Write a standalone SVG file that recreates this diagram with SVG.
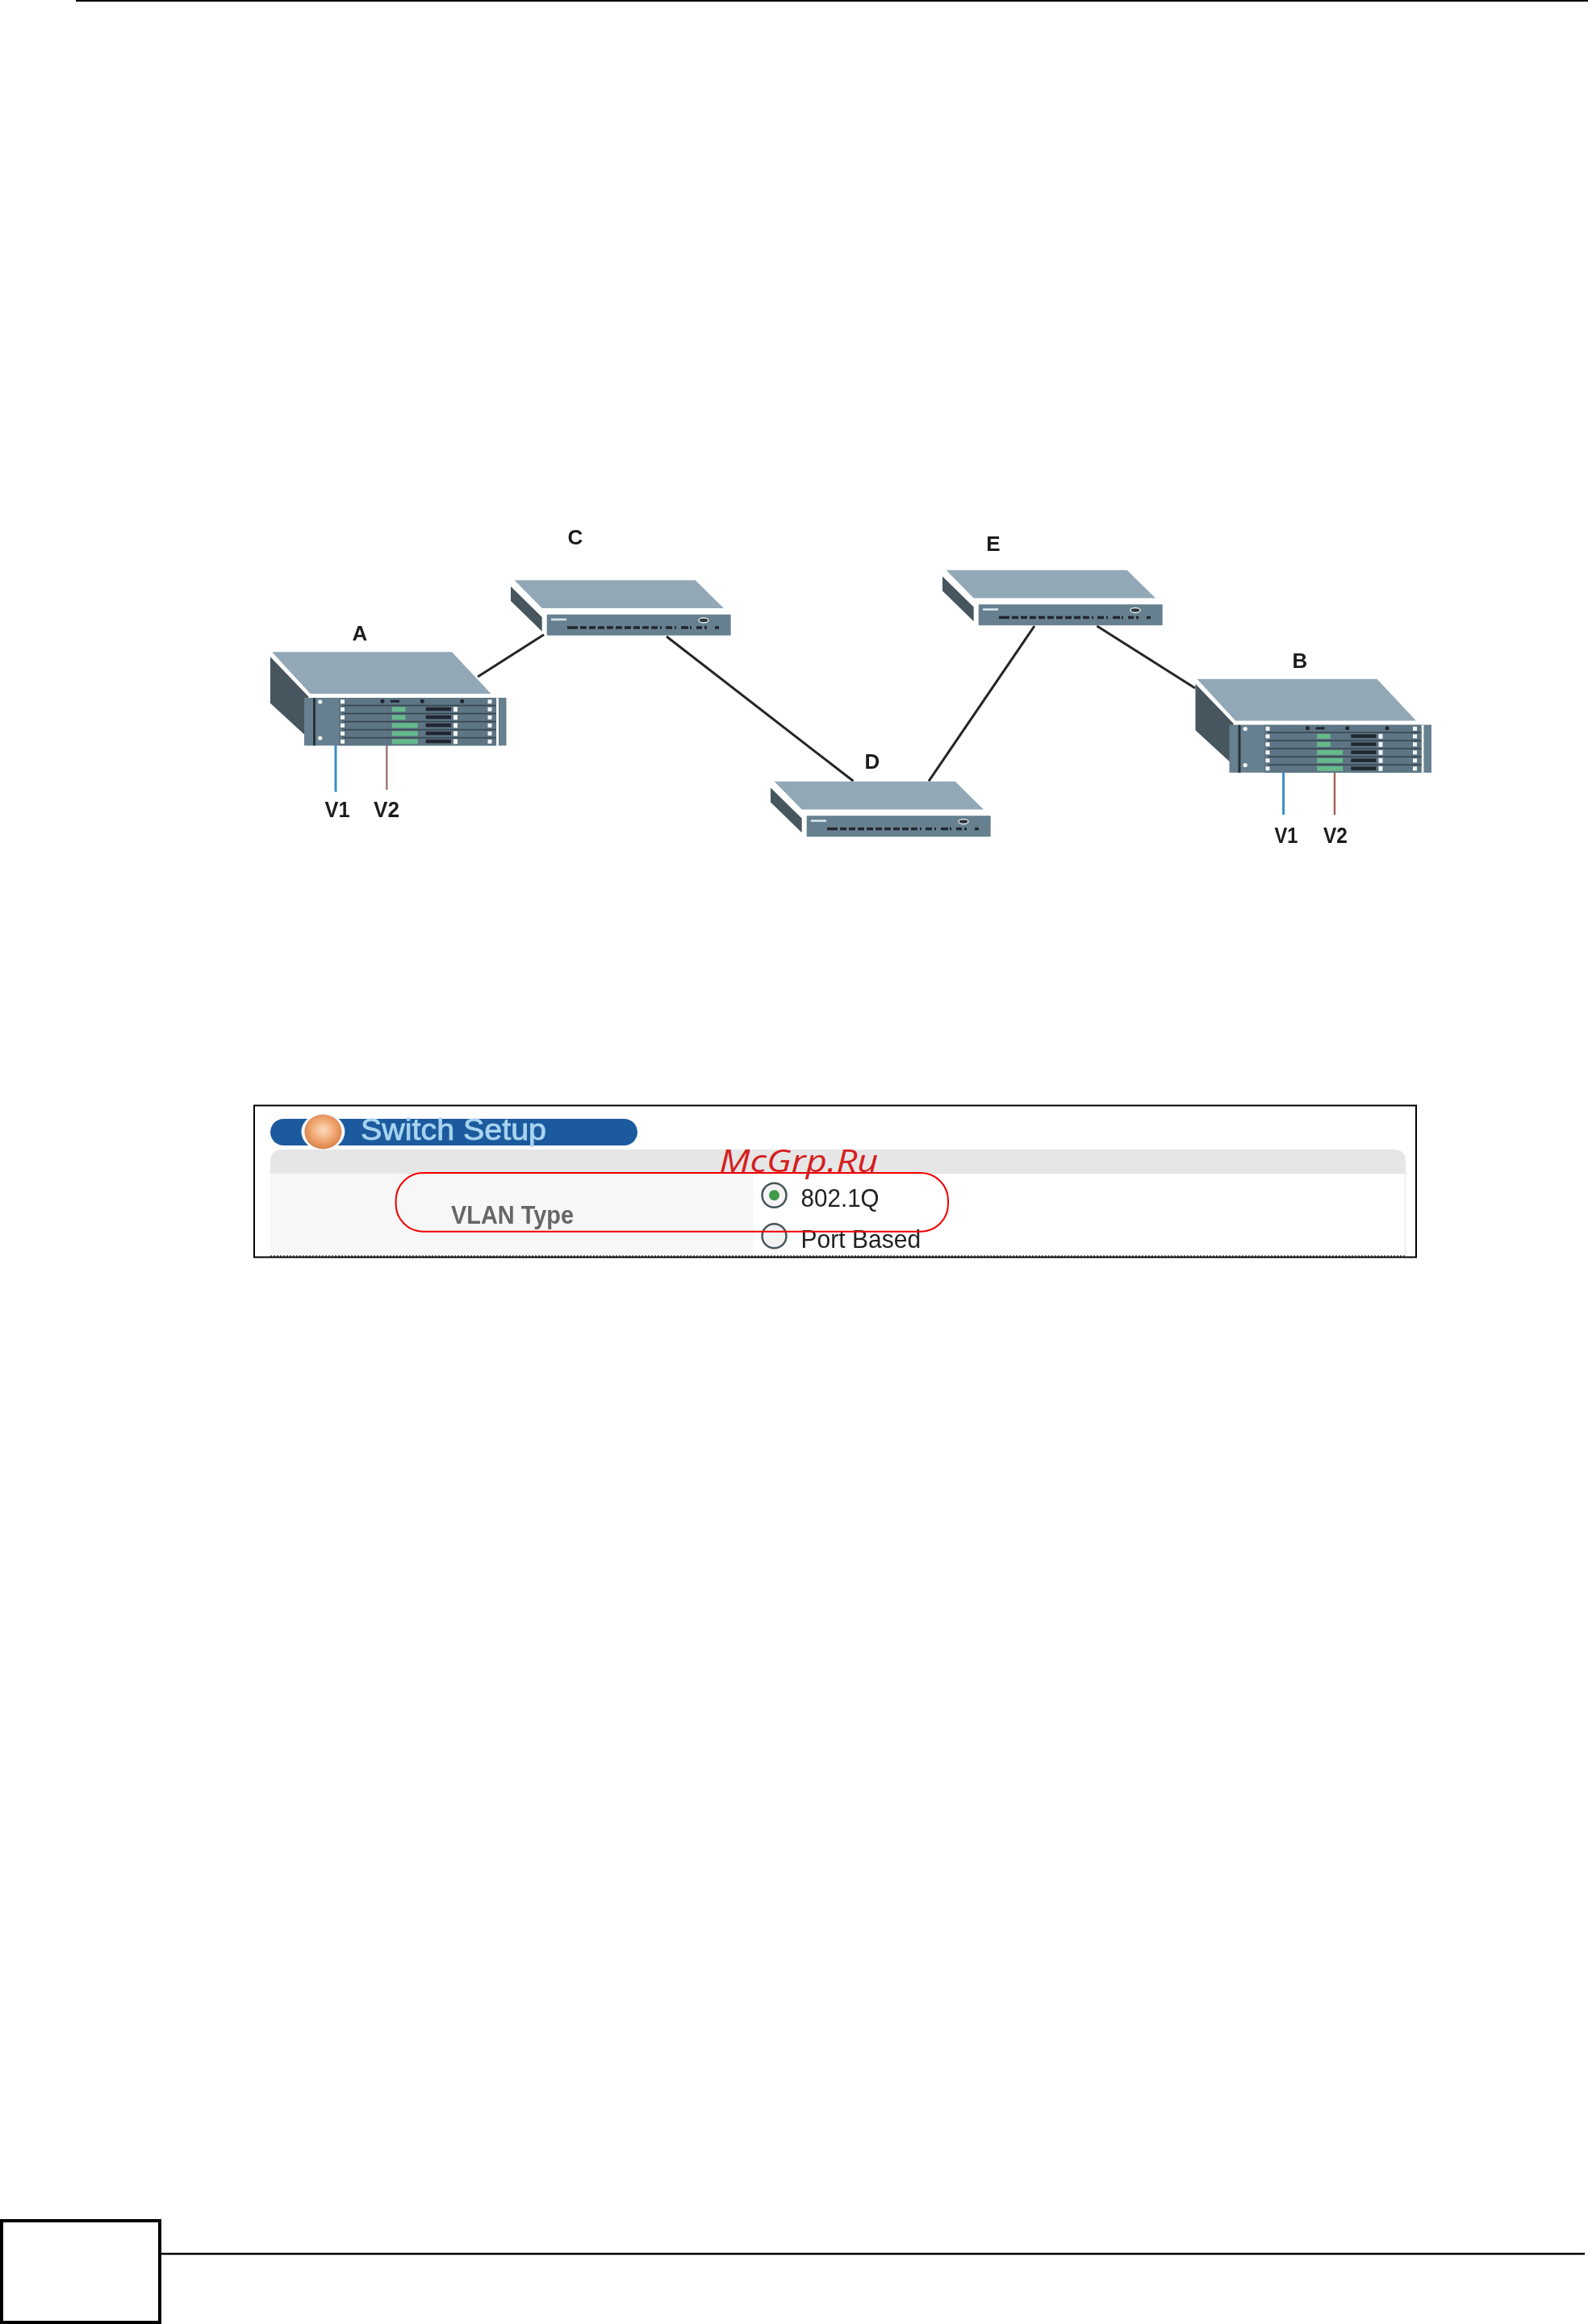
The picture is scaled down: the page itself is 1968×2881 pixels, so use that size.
<svg xmlns="http://www.w3.org/2000/svg" width="1968" height="2881" viewBox="0 0 1968 2881">
<style>
.top{fill:#93a8b7}.edge{fill:#fbfcfc}.side{fill:#47555f}.front{fill:#66808f}.port{fill:#20282e}
.lbl{font-family:"Liberation Sans",Arial,sans-serif;font-weight:700;fill:#1c1c1c}
.wire{stroke:#262626;stroke-width:3;fill:none}
.dot{fill:#f4f6f6}
.shot{font-family:"Liberation Sans",Arial,sans-serif}
</style>
<defs>
<filter id="soft" x="-5%" y="-5%" width="110%" height="110%"><feGaussianBlur stdDeviation="0.7"/></filter>
<radialGradient id="orb" cx="50%" cy="45%" r="55%"><stop offset="0" stop-color="#fbdcc0"/><stop offset=".6" stop-color="#f0a46e"/><stop offset="1" stop-color="#d9824c"/></radialGradient>
<g id="switch">
<polygon class="top" points="0.5,0.3 224.7,0.3 260,35 34.7,35"/>
<polygon class="side" points="-4,8 34.7,46 34.7,63.7 -4,26"/>
<rect class="front" x="40.7" y="42.7" width="228" height="26" rx="1"/>
<rect x="46" y="47.7" width="19" height="2.6" fill="#d8e6ee"/>
<ellipse cx="235" cy="50" rx="6" ry="3" fill="#2c363c" stroke="#dfe6ea" stroke-width="1.5"/>
<path d="M66 59h13m3 0h8m3 0h8m3 0h8m3 0h8m3 0h8m3 0h8m3 0h8m3 0h8m3 0h8m3 0h2m5 0h8m3 0h2m6 0h9m2 0h2m6 0h7m3 0h3m10 0h5" stroke="#20282e" stroke-width="3.5" fill="none"/>
</g>
<g id="chassis">
<polygon class="top" points="0,0 223,0 271.5,51.7 47.6,51.7"/>
<polygon class="side" points="-2,6 45,55 45,106.7 -2,63.5"/>
<rect class="front" x="40" y="56.7" width="250.5" height="59.3"/>
<rect x="51" y="57" width="3" height="59" fill="#2a3238"/>
<rect x="278" y="57" width="3" height="59" fill="#f4f6f6"/>
<rect x="83" y="57" width="195" height="59" fill="#5d7584"/>
<g fill="#39464f">
<rect x="88" y="65.5" width="190" height="1.6"/><rect x="88" y="75.5" width="190" height="1.6"/><rect x="88" y="85.5" width="190" height="1.6"/><rect x="88" y="95.5" width="190" height="1.6"/><rect x="88" y="105.5" width="190" height="1.6"/>
</g>
<g fill="#66b98c">
<rect x="148.7" y="68" width="16.6" height="6"/><rect x="148.7" y="78" width="16.6" height="6"/><rect x="148.7" y="88" width="32" height="6"/><rect x="148.7" y="98" width="32" height="6"/><rect x="148.7" y="108" width="32" height="6"/>
</g>
<g class="port">
<rect x="190.7" y="68.5" width="31.3" height="4.5"/><rect x="190.7" y="78.5" width="31.3" height="4.5"/><rect x="190.7" y="88.5" width="31.3" height="4.5"/><rect x="190.7" y="98.5" width="31.3" height="4.5"/><rect x="190.7" y="108.5" width="31.3" height="4.5"/>
<circle cx="137" cy="61" r="2.5"/><circle cx="186.3" cy="61" r="2.5"/><circle cx="235.7" cy="61" r="2.5"/><rect x="147" y="59.5" width="11" height="3"/>
</g>
<g class="dot">
<circle cx="59.7" cy="61.7" r="2.6"/><circle cx="59.7" cy="106.7" r="2.6"/>
<rect x="85" y="59" width="5" height="5"/><rect x="85" y="68.5" width="5" height="5"/><rect x="85" y="78.5" width="5" height="5"/><rect x="85" y="88.5" width="5" height="5"/><rect x="85" y="98.5" width="5" height="5"/><rect x="85" y="108.5" width="5" height="5"/>
<rect x="267.5" y="59" width="5" height="5"/><rect x="267.5" y="68.5" width="5" height="5"/><rect x="267.5" y="78.5" width="5" height="5"/><rect x="267.5" y="88.5" width="5" height="5"/><rect x="267.5" y="98.5" width="5" height="5"/><rect x="267.5" y="108.5" width="5" height="5"/>
<rect x="225" y="68" width="5" height="6"/><rect x="225" y="78" width="5" height="6"/><rect x="225" y="88" width="5" height="6"/><rect x="225" y="98" width="5" height="6"/><rect x="225" y="108" width="5" height="6"/>
</g>
</g>
</defs>
<rect width="1968" height="2881" fill="#ffffff"/>
<g id="page-frame">
<line x1="94" y1="1" x2="1968" y2="1" stroke="#000" stroke-width="2"/>
<rect x="2" y="2753" width="196" height="126" fill="none" stroke="#000" stroke-width="4"/>
<line x1="200" y1="2794" x2="1964" y2="2794" stroke="#000" stroke-width="2.4"/>
</g>
<g id="connectors" filter="url(#soft)">
<line class="wire" x1="592" y1="839" x2="674" y2="786.7"/>
<line class="wire" x1="826" y1="789" x2="1057.5" y2="968.3"/>
<line class="wire" x1="1151" y1="968.3" x2="1282" y2="776"/>
<line class="wire" x1="1359.4" y1="776" x2="1481" y2="853"/>
<line x1="416" y1="923" x2="416" y2="981.7" stroke="#3a8cc8" stroke-width="3"/>
<line x1="479.3" y1="923" x2="479.3" y2="979" stroke="#a07a78" stroke-width="2.5"/>
<line x1="1590.6" y1="958" x2="1590.6" y2="1010" stroke="#3a8cc8" stroke-width="3"/>
<line x1="1654" y1="958" x2="1654" y2="1010" stroke="#a8605a" stroke-width="2.5"/>
</g>
<g id="node-A" filter="url(#soft)"><use href="#chassis" x="337" y="808.3"/><text class="lbl" x="446" y="793.5" font-size="26" text-anchor="middle">A</text></g>
<g id="node-B" filter="url(#soft)"><use href="#chassis" x="1483.5" y="841.8"/><text class="lbl" x="1611" y="827.5" font-size="26" text-anchor="middle">B</text></g>
<g id="node-C" filter="url(#soft)"><use href="#switch" x="637" y="719"/><text class="lbl" x="713" y="674.5" font-size="26" text-anchor="middle">C</text></g>
<g id="node-D" filter="url(#soft)"><use href="#switch" x="959" y="968.5"/><text class="lbl" x="1081" y="952.5" font-size="26" text-anchor="middle">D</text></g>
<g id="node-E" filter="url(#soft)"><use href="#switch" x="1172" y="706.5"/><text class="lbl" x="1231" y="682.5" font-size="26" text-anchor="middle">E</text></g>
<g id="vlan-labels" filter="url(#soft)">
<text class="lbl" x="418" y="1013" font-size="27" text-anchor="middle" textLength="31" lengthAdjust="spacingAndGlyphs">V1</text>
<text class="lbl" x="479" y="1013" font-size="27" text-anchor="middle" textLength="32" lengthAdjust="spacingAndGlyphs">V2</text>
<text class="lbl" x="1594" y="1045" font-size="27" text-anchor="middle" textLength="29" lengthAdjust="spacingAndGlyphs">V1</text>
<text class="lbl" x="1655" y="1045" font-size="27" text-anchor="middle" textLength="30" lengthAdjust="spacingAndGlyphs">V2</text>
</g>
<g id="switch-setup-screenshot">
<g filter="url(#soft)">
<path d="M335 1455V1440q0-15 15-15H1727q15 0 15 15V1455Z" fill="#e6e6e6"/>
<rect x="335" y="1455" width="599" height="102" fill="#f7f7f7"/>
<line x1="1741.5" y1="1455" x2="1741.5" y2="1557" stroke="#eeeeee" stroke-width="2"/>
<rect x="335" y="1387" width="455" height="33" rx="16.5" fill="#1b5a9e"/>
<ellipse cx="400.4" cy="1403" rx="27" ry="23" fill="#f4f8fb"/>
<ellipse cx="400.4" cy="1403" rx="23" ry="21.5" fill="url(#orb)"/>
<text class="shot" x="447" y="1413" font-size="37" textLength="230" lengthAdjust="spacingAndGlyphs" fill="#a8d4f0" stroke="#a8d4f0" stroke-width="0.8">Switch Setup</text>
<text class="shot" x="559" y="1517" font-size="31" font-weight="700" textLength="152" lengthAdjust="spacingAndGlyphs" fill="#666666">VLAN Type</text>
<circle cx="959.5" cy="1481.7" r="15" fill="#f4f4f4" stroke="#46545a" stroke-width="2.5"/>
<circle cx="959.5" cy="1481.7" r="6.5" fill="#3f9a4c"/>
<circle cx="959.5" cy="1532.3" r="15" fill="#f0f2f2" stroke="#46545a" stroke-width="2.5"/>
<text class="shot" x="992.6" y="1496" font-size="32" textLength="97" lengthAdjust="spacingAndGlyphs" fill="#222222">802.1Q</text>
<text class="shot" x="992.6" y="1546.5" font-size="32" textLength="148.5" lengthAdjust="spacingAndGlyphs" fill="#222222">Port Based</text>
</g>
<line x1="335" y1="1557" x2="1742" y2="1557" stroke="#777" stroke-width="2" stroke-dasharray="2 2"/>
<rect x="315" y="1370.5" width="1440" height="188" fill="none" stroke="#000" stroke-width="2"/>
<rect x="490.6" y="1454" width="684.4" height="72.7" rx="34" fill="none" stroke="#f00000" stroke-width="2"/>
<text x="891.5" y="1453" font-family="'Open Sans',sans-serif" font-style="italic" font-size="38" textLength="197" lengthAdjust="spacingAndGlyphs" fill="#d42020">McGrp.Ru</text>
</g>
</svg>
